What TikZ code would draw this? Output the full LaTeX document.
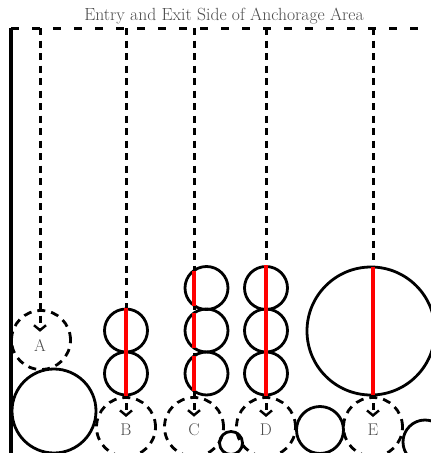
\documentclass[tikz,border=0pt]{standalone}
\usepackage{fontspec}
\setmainfont{Latin Modern Roman}
\usetikzlibrary{arrows.meta}
\begin{document}
\begin{tikzpicture}[x=1pt,y=-1pt,
  lane/.style={line width=3pt, dash pattern=on 7pt off 5.5pt},
  topline/.style={line width=3pt, dash pattern=on 8pt off 13pt},
  ring/.style={circle, draw, line width=2.8pt, inner sep=0pt, minimum size=#1},
  dring/.style={circle, draw, line width=2.8pt, dash pattern=on 8pt off 6pt, inner sep=0pt, minimum size=59pt},
  lbl/.style={font=\fontsize{17}{20}\selectfont, text=black!70, inner sep=0pt},
  redline/.style={draw=red, line width=4pt},
  tip/.style={-{Straight Barb[length=5pt,width=12pt,line width=2.4pt]}}
]
\useasboundingbox (0,0) rectangle (431,453);
\clip (0,0) rectangle (431,453);

% title and borders
\node[font=\fontsize{17.6}{21}\selectfont, text=black!70] (title) at (224,16) {Entry and Exit Side of Anchorage Area};
\coordinate (tl) at (11,28);
\coordinate (tr) at (433,28);
\coordinate (bl) at (11,455);
\draw[line width=3.8pt] (tl) -- (bl);
\draw[topline] (tl) -- (tr);

% dashed circles (anchorage positions)
\node[dring] (cA) at (41,340) {};
\node[dring] (cB) at (126,427) {};
\node[dring] (cC) at (194,427) {};
\node[dring] (cD) at (266,427) {};
\node[dring] (cE) at (373,427) {};

% labels
\node[lbl] (A) at (40,345) {A};
\node[lbl] (B) at (126,430) {B};
\node[lbl] (C) at (194,430) {C};
\node[lbl] (D) at (266,430) {D};
\node[lbl] (E) at (373,430) {E};

% top points of lanes
\coordinate (tA) at (40,28);
\coordinate (tB) at (126,28);
\coordinate (tC) at (194,28);
\coordinate (tD) at (266,28);
\coordinate (tE) at (373,28);

\draw[lane, tip] (tA) -- ([yshift=7pt]A.north);
\draw[lane, tip] (tB) -- ([yshift=7pt]B.north);
\draw[lane, tip] (tC) -- ([yshift=7pt]C.north);
\draw[lane, tip] (tD) -- ([yshift=7pt]D.north);
\draw[lane, tip] (tE) -- ([yshift=7pt]E.north);

% solid circles (anchored ships)
\node[ring=84pt] (s1) at (54,411) {};
\node[ring=43pt] (b1) at (126,330.5) {};
\node[ring=43pt] (b2) at (126,373.5) {};
\node[ring=43pt] (c1) at (206.5,288) {};
\node[ring=43pt] (c2) at (206.5,330.5) {};
\node[ring=43pt] (c3) at (206.5,373.5) {};
\node[ring=43pt] (d1) at (266,288) {};
\node[ring=43pt] (d2) at (266,330.5) {};
\node[ring=43pt] (d3) at (266,373.5) {};
\node[ring=128pt] (e1) at (371,331) {};
\node[ring=23pt] (s2) at (231,443) {};
\node[ring=47pt] (s3) at (320,430) {};
\node[ring=44pt] (s4) at (425,442) {};

% red lines
\draw[redline] (b1.north) -- (b2.south);
\draw[redline] (194,270.5) -- (194,305.5);
\draw[redline] (194,313) -- (194,348);
\draw[redline] (194,356) -- (194,391);
\draw[redline] (d1.north) -- (d3.south);
\draw[redline] (373,267) -- (373,395);
\end{tikzpicture}
\end{document}
